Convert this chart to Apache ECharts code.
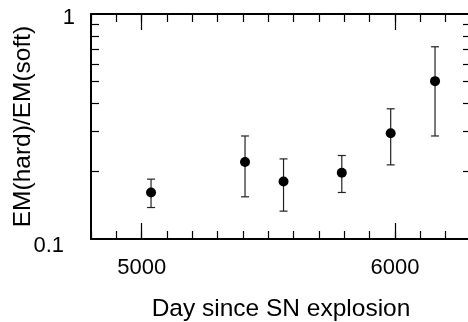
<!DOCTYPE html>
<html>
<head>
<meta charset="utf-8">
<script src="https://cdn.jsdelivr.net/npm/echarts@6/dist/echarts.min.js"></script>
<style>
  html, body { margin: 0; padding: 0; background: #fff; overflow: hidden; }
  #chart { width: 472px; height: 322px; }
</style>
</head>
<body>
<div id="chart"></div>
<script>
// EM ratio vs. day since explosion
const days = [5037, 5408, 5560, 5790, 5983, 6158]
const ratio = [0.161, 0.220, 0.180, 0.197, 0.295, 0.503]
const ratioLow = [0.138, 0.154, 0.133, 0.161, 0.2135, 0.287]
const ratioHigh = [0.1845, 0.287, 0.227, 0.235, 0.379, 0.715]

const xLabelValues = [5000, 6000]
const yLabelBottom = [0.1]
const yLabelTop = [1]
const yMinorTicks = [0.2, 0.3, 0.4, 0.5, 0.6, 0.7, 0.8, 0.9]

const FONT = '"Liberation Sans", Arial, sans-serif'
const INK = '#000'

const chart = echarts.init(document.getElementById('chart'), null, { renderer: 'canvas' })

const points = days.map((d, i) => [d, ratio[i]])
const bars = days.map((d, i) => [d, ratioLow[i], ratioHigh[i]])

function xAxisBase(position) {
  return {
    type: 'value', position, min: 4800, max: 6300,
    splitLine: { show: false },
    axisLine: { show: false, onZero: false },
    axisLabel: { show: false },
  }
}

function yAxisBase(position) {
  return {
    type: 'log', logBase: 10, position, min: 0.1, max: 1,
    splitLine: { show: false },
    axisLine: { show: false, onZero: false },
    axisLabel: { show: false },
    axisTick: { show: false },
  }
}

// minor ticks every 100 days, long ticks at the labelled values
const xAxes = []
for (const pos of ['bottom', 'top']) {
  const minor = xAxisBase(pos)
  minor.interval = 100
  minor.axisLine = { show: true, onZero: false, lineStyle: { color: INK, width: 2 } }
  minor.axisTick = { show: true, inside: true, length: 8, lineStyle: { color: INK, width: 1.2 } }
  if (pos === 'bottom') {
    minor.axisLabel = {
      show: true, customValues: xLabelValues, margin: 18,
      color: INK, fontSize: 22, fontFamily: FONT, formatter: v => String(v),
    }
    minor.name = 'Day since SN explosion'
    minor.nameLocation = 'middle'
    minor.nameGap = 58
    minor.nameTextStyle = { color: INK, fontSize: 24.5, fontFamily: FONT }
  }
  xAxes.push(minor)

  const major = xAxisBase(pos)
  major.axisTick = { show: true, inside: true, length: 16, customValues: xLabelValues, lineStyle: { color: INK, width: 1.2 } }
  xAxes.push(major)
}

// labels sit a little below their ticks in the original
const yLeft = yAxisBase('left')
yLeft.axisLine = { show: true, onZero: false, lineStyle: { color: INK, width: 2 } }
yLeft.axisTick = { show: true, inside: true, length: 8, customValues: yMinorTicks, lineStyle: { color: INK, width: 1.2 } }
yLeft.axisLabel = {
  show: true, customValues: yLabelBottom, margin: 27,
  formatter: v => '{t|' + v + '}',
  rich: { t: { color: INK, fontSize: 22, fontFamily: FONT, padding: [13, 0, 0, 0] } },
}
yLeft.name = 'EM(hard)/EM(soft)'
yLeft.nameLocation = 'middle'
yLeft.nameGap = 55
yLeft.nameMoveOverlap = false
yLeft.nameTextStyle = { color: INK, fontSize: 24.5, fontFamily: FONT }

// the "1" sits a bit closer to the axis than "0.1"
const yLeftTop = yAxisBase('left')
yLeftTop.axisLabel = {
  show: true, customValues: yLabelTop, margin: 16,
  formatter: v => '{t|' + v + '}',
  rich: { t: { color: INK, fontSize: 22, fontFamily: FONT, padding: [8, 0, 0, 0] } },
}

const yRight = yAxisBase('right')
yRight.axisLine = { show: true, onZero: false, lineStyle: { color: INK, width: 2 } }
yRight.axisTick = { show: true, inside: true, length: 8, customValues: yMinorTicks, lineStyle: { color: INK, width: 1.2 } }

chart.setOption({
  animation: false,
  grid: { left: 91, right: 1, top: 14, bottom: 83, containLabel: false, outerBoundsMode: 'none' },
  xAxis: xAxes,
  yAxis: [yLeft, yLeftTop, yRight],
  series: [
    {
      type: 'custom',
      xAxisIndex: 0,
      yAxisIndex: 0,
      data: bars,
      encode: { x: 0, y: [1, 2] },
      renderItem: (params, api) => {
        const lo = api.coord([api.value(0), api.value(1)])
        const hi = api.coord([api.value(0), api.value(2)])
        const cap = 4
        const style = { stroke: '#222', lineWidth: 1.2 }
        return {
          type: 'group',
          children: [
            { type: 'line', shape: { x1: lo[0], y1: lo[1], x2: hi[0], y2: hi[1] }, style },
            { type: 'line', shape: { x1: lo[0] - cap, y1: lo[1], x2: lo[0] + cap, y2: lo[1] }, style },
            { type: 'line', shape: { x1: hi[0] - cap, y1: hi[1], x2: hi[0] + cap, y2: hi[1] }, style },
          ],
        }
      },
      z: 2,
    },
    {
      type: 'scatter',
      xAxisIndex: 0,
      yAxisIndex: 0,
      data: points,
      symbol: 'circle',
      symbolSize: 10,
      itemStyle: { color: INK, opacity: 1 },
      z: 3,
    },
  ],
})
</script>
</body>
</html>
